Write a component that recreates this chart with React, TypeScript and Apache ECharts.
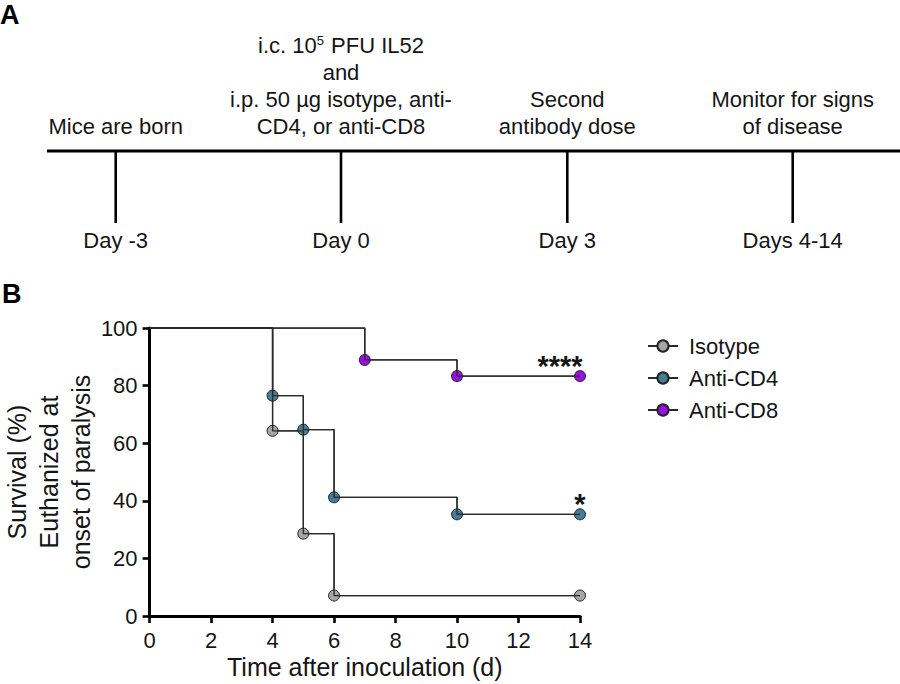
import React, { useEffect, useRef } from "react";
import * as echarts from "echarts";

// Kaplan–Meier survival (%) by day after inoculation
const isotypeSurvival: [number, number][] = [[0, 100], [4, 64.3], [5, 28.6], [6, 7.1], [14, 7.1]];
const antiCD4Survival: [number, number][] = [[0, 100], [4, 76.5], [5, 64.7], [6, 41.2], [10, 35.3], [14, 35.3]];
const antiCD8Survival: [number, number][] = [[0, 100], [7, 88.9], [10, 83.3], [14, 83.3]];

const groupNames = ["Isotype", "Anti-CD4", "Anti-CD8"];
const groupColors = ["#a5a5a7", "#457d97", "#9a10e3"];
const significance = ["", "*", "****"];

const xTicks = { min: 0, max: 14, interval: 2 };
const yTicks = { min: 0, max: 100, interval: 20 };

// Experimental timeline
const timelineDays = ["Day -3", "Day 0", "Day 3", "Days 4-14"];
const timelineEvents = [
  ["Mice are born"],
  ["i.c. 10{sup|5} PFU IL52", "and", "i.p. 50 µg isotype, anti-", "CD4, or anti-CD8"],
  ["Second", "antibody dose"],
  ["Monitor for signs", "of disease"],
];

const FONT = "'Liberation Sans', Arial, Helvetica, sans-serif";
const INK = "#151515";

export default function App() {
  const ref = useRef<HTMLDivElement>(null);

  useEffect(() => {
    if (!ref.current) return;
    const chart = echarts.init(ref.current, null, { renderer: "svg" });

    const allSeries = [isotypeSurvival, antiCD4Survival, antiCD8Survival];

    // Markers (with legend icons) first, step lines drawn over them afterwards
    const markerSeries = allSeries.map((pts, i) => ({
      name: groupNames[i],
      type: "line",
      step: "end",
      z: 2,
      showAllSymbol: true,
      symbol: "circle",
      symbolSize: 11,
      itemStyle: { color: groupColors[i], borderColor: "#222", borderWidth: 1 },
      lineStyle: { color: "#2a2a2a", width: 1.3 },
      data: pts.map((p, j) => {
        const item: any = { value: p };
        if (j === 0) item.symbol = "none";
        if (j === pts.length - 1 && significance[i]) {
          item.label = {
            show: true,
            position: "top",
            formatter: significance[i],
            fontFamily: FONT,
            fontSize: 29,
            fontWeight: "bold",
            color: INK,
            distance: 1,
            offset: [significance[i].length > 1 ? -20 : 0, 11],
          };
        }
        return item;
      }),
    }));

    const stepSeries = allSeries.map((pts, i) => ({
      name: groupNames[i] + " step",
      type: "line",
      step: "end",
      z: 3,
      symbol: "none",
      silent: true,
      lineStyle: { color: "#2a2a2a", width: 1.3 },
      data: pts,
    }));

    const tickXs = [115.7, 341, 567.3, 792.7];
    const graphics: any[] = [
      { type: "text", left: 0, top: 1, style: { text: "A", font: `bold 27px ${FONT}`, fill: "#000" } },
      { type: "text", left: 2, top: 280, style: { text: "B", font: `bold 27px ${FONT}`, fill: "#000" } },
      { type: "line", shape: { x1: 47, y1: 151, x2: 900, y2: 151 }, style: { stroke: "#000", lineWidth: 3 } },
    ];
    timelineDays.forEach((d, i) => {
      const x = tickXs[i];
      graphics.push({ type: "line", shape: { x1: x, y1: 151, x2: x, y2: 223 }, style: { stroke: "#000", lineWidth: 2.6 } });
      graphics.push({
        type: "text",
        x,
        y: 240,
        style: { text: d, fontFamily: FONT, fontSize: 22, fill: INK, align: "center", verticalAlign: "middle" },
      });
      const lines = timelineEvents[i];
      lines.forEach((t, j) => {
        graphics.push({
          type: "text",
          x,
          y: 126 - (lines.length - 1 - j) * 27,
          style: {
            text: t,
            fontFamily: FONT,
            fontSize: 22,
            fill: INK,
            align: "center",
            verticalAlign: "middle",
            rich: {
              sup: { fontFamily: FONT, fontSize: 13, fill: INK, verticalAlign: "top", padding: [0, 1, 0, 0] },
            },
          },
        });
      });
    });

    chart.setOption({
      animation: false,
      backgroundColor: "#fff",
      textStyle: { fontFamily: FONT },
      grid: { left: 147, right: 320, top: 328, bottom: 68 },
      legend: {
        data: groupNames,
        orient: "vertical",
        left: 647,
        top: 335,
        padding: 0,
        itemWidth: 30,
        itemHeight: 14,
        itemGap: 10,
        selectedMode: false,
        textStyle: { fontFamily: FONT, fontSize: 22, color: INK, padding: [0, 0, 0, 6] },
      },
      xAxis: {
        type: "value",
        ...xTicks,
        name: "Time after inoculation (d)",
        nameLocation: "middle",
        nameGap: 38,
        nameTextStyle: { fontFamily: FONT, fontSize: 25, color: INK },
        axisLine: { lineStyle: { color: "#000", width: 3 } },
        axisTick: { length: 7, lineStyle: { color: "#000", width: 2.6 } },
        axisLabel: { fontFamily: FONT, fontSize: 22, color: INK, margin: 13 },
        splitLine: { show: false },
      },
      yAxis: {
        type: "value",
        ...yTicks,
        name: "Survival (%)\nEuthanized at\nonset of paralysis",
        nameLocation: "middle",
        nameGap: 51,
        nameTextStyle: { fontFamily: FONT, fontSize: 25, color: INK, lineHeight: 32 },
        axisLine: { show: true, lineStyle: { color: "#000", width: 3 } },
        axisTick: { show: true, length: 7, lineStyle: { color: "#000", width: 2.6 } },
        axisLabel: { fontFamily: FONT, fontSize: 22, color: INK, margin: 12 },
        splitLine: { show: false },
      },
      series: [...markerSeries, ...stepSeries],
      graphic: graphics,
    });

    return () => chart.dispose();
  }, []);

  return <div ref={ref} style={{ position: "fixed", left: 0, top: 0, width: 900, height: 684 }} />;
}
